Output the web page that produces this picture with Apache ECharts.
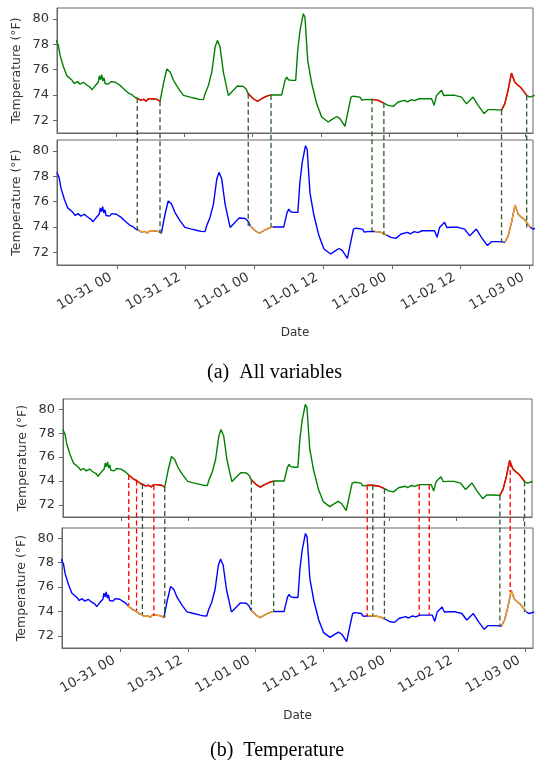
<!DOCTYPE html>
<html>
<head>
<meta charset="utf-8">
<script src="https://cdn.jsdelivr.net/npm/echarts@6/dist/echarts.min.js"></script>
<style>
html, body { margin: 0; padding: 0; background: #fff; }
#main { width: 535px; height: 760px; }
</style>
</head>
<body>
<div id="main"></div>
<script>
// hours after 10-31 00:00
const tHours = [-10.5, -10.1, -9.8, -9.2, -8.6, -7.7, -7.3, -6.8, -6.3, -5.7, -5.2, -4.5, -4.2, -3.6, -3.1, -2.9, -2.7, -2.5, -2.3, -2.1,
  -1.9, -1.6, -1.3, -0.9, -0.1, 0.75, 1.3, 1.63, 2.2, 2.7, 3.39, 3.75, 4.26, 4.6, 4.9, 5.3, 5.72, 5.8, 6.3, 7.2,
  7.75, 8.07, 8.35, 8.95, 9.53, 10.11, 11.0, 11.86, 13.04, 14.22, 14.5, 14.7, 15.37, 15.67, 16.25, 16.85, 17.43, 17.83, 18.3, 18.88,
  19.76, 20.64, 21.34, 22.39, 22.9, 23.25, 24.15, 24.85, 25.62, 26.5, 27.25, 29.13, 29.71, 30.01, 30.3, 30.89, 31.59, 31.94, 32.35, 32.92,
  33.22, 33.7, 34.4, 35.28, 36.15, 37.31, 37.91, 38.79, 39.37, 40.24, 40.54, 40.82, 41.3, 41.7, 42.88, 43.2, 43.75, 44.0, 45.0, 46.09,
  47.08, 47.84, 48.72, 49.6, 50.77, 51.2, 51.95, 52.5, 53.3, 54.28, 55.1, 55.46, 55.91, 56.34, 57.21, 57.6, 58.37, 59.55, 60.72, 61.6,
  62.76, 63.64, 64.69, 65.39, 66.57, 67.75, 68.32, 68.9, 69.5, 69.6, 70.08, 70.66, 71.1, 71.53, 72.17, 72.71, 73.6];
const temps = [78.3, 77.9, 77.1, 76.2, 75.5, 75.15, 74.9, 75.05, 74.85, 75.0, 74.8, 74.6, 74.4, 74.75, 75.0, 75.5, 75.2, 75.6, 75.1, 75.35,
  74.9, 75.0, 74.85, 75.05, 75.0, 74.75, 74.5, 74.35, 74.15, 74.05, 73.8, 73.75, 73.6, 73.45, 73.65, 73.5, 73.7, 73.65, 73.7, 73.65,
  73.5, 73.45, 74.9, 76.05, 75.8, 75.15, 74.5, 73.97, 73.83, 73.7, 73.85, 73.65, 73.63, 74.1, 74.75, 75.8, 77.77, 78.3, 77.77, 75.8,
  73.96, 74.36, 74.7, 74.67, 74.45, 74.1, 73.7, 73.5, 73.7, 73.9, 74.0, 74.0, 75.15, 75.4, 75.2, 75.15, 75.15, 77.5, 79.08, 80.4,
  80.1, 76.7, 74.9, 73.3, 72.26, 71.87, 72.05, 72.3, 72.13, 71.53, 71.47, 72.8, 73.83, 73.9, 73.83, 73.6, 73.63, 73.65, 73.65, 73.57,
  73.36, 73.18, 73.1, 73.44, 73.57, 73.45, 73.63, 73.55, 73.7, 73.7, 73.7, 73.7, 73.18, 73.96, 74.36, 73.95, 73.97, 73.97, 73.83, 73.3,
  73.83, 73.18, 72.53, 72.84, 72.84, 72.8, 73.3, 74.36, 75.72, 75.6, 75.0, 74.75, 74.6, 74.36, 73.96, 73.83, 73.96];

// anomaly windows (hours)
const segA = [[3.75, 7.75], [23.25, 27.25], [45.0, 47.08], [67.75, 72.17]];
const segB = [[1.3, 7.75], [23.25, 27.25], [44.0, 47.08], [67.75, 72.17]];
const redLinesB = [1.3, 2.7, 5.8, 44.0, 53.3, 55.1, 69.6];
const tickHours = [0, 12, 24, 36, 48, 60, 72];
const tickLabels = ['10-31 00', '10-31 12', '11-01 00', '11-01 12', '11-02 00', '11-02 12', '11-03 00'];
const tempTicks = [72, 74, 76, 78, 80];

const gray = '#666', txt = '#333';
const grids = [
  { left: 57, top: 8, width: 476, height: 125, xr: [-10.35, 73.28] },
  { left: 57, top: 140, width: 476, height: 125, xr: [-10.47, 72.65] },
  { left: 63, top: 399, width: 469, height: 118, xr: [-10.47, 73.5] },
  { left: 62, top: 528, width: 471, height: 120, xr: [-10.36, 73.37] }
];

const inSeg = (segs, h) => segs.some(s => h >= s[0] - 1e-6 && h <= s[1] + 1e-6);
const full = tHours.map((h, i) => [h, temps[i]]);
const part = segs => tHours.map((h, i) => [h, inSeg(segs, h) ? temps[i] : '-']);
const capStyle = { fontFamily: 'Liberation Serif', fontSize: 20, fontWeight: 'normal', color: '#000' };

let chart = echarts.init(document.getElementById('main'));
let option = {
  animation: false,
  title: [
    { text: '(a)  All variables', left: 202, top: 358, textStyle: capStyle },
    { text: '(b)  Temperature', left: 205, top: 736, textStyle: capStyle }
  ],
  grid: grids.map(g => ({ left: g.left, top: g.top, width: g.width, height: g.height, show: true, borderColor: gray, borderWidth: 1 })),
  xAxis: grids.map((g, i) => ({
    type: 'value', gridIndex: i, min: g.xr[0], max: g.xr[1],
    splitLine: { show: false },
    axisLine: { show: true, onZero: false, lineStyle: { color: gray } },
    axisTick: { show: true, length: 4, lineStyle: { color: gray }, customValues: tickHours },
    axisLabel: {
      show: i % 2 === 1, customValues: tickHours, rotate: 30, margin: 16,
      align: 'right', verticalAlign: 'bottom', padding: [0, 3, 0, 0],
      fontFamily: 'DejaVu Sans', fontSize: 13.5, color: txt,
      formatter: v => tickLabels[tickHours.indexOf(v)]
    },
    name: i % 2 === 1 ? 'Date' : '', nameLocation: 'middle', nameGap: 62, nameMoveOverlap: false,
    nameTextStyle: { fontFamily: 'DejaVu Sans', fontSize: 12, color: txt }
  })),
  yAxis: grids.map((g, i) => ({
    type: 'value', gridIndex: i, min: 71, max: 80.85,
    splitLine: { show: false },
    axisLine: { show: true, onZero: false, lineStyle: { color: gray } },
    axisTick: { show: true, length: 4, lineStyle: { color: gray }, customValues: tempTicks },
    axisLabel: { customValues: tempTicks, margin: 8, fontFamily: 'DejaVu Sans', fontSize: 13, color: txt },
    name: 'Temperature (°F)', nameLocation: 'middle', nameGap: 34, nameMoveOverlap: false,
    nameTextStyle: { fontFamily: 'DejaVu Sans', fontSize: 12.5, color: txt }
  })),
  series: []
};

grids.forEach((g, i) => {
  const top = i % 2 === 0;
  const segs = i < 2 ? segA : segB;
  option.series.push({
    type: 'line', xAxisIndex: i, yAxisIndex: i, data: full, showSymbol: false,
    lineStyle: { width: 1.4, color: top ? '#008000' : '#0000ff' }, z: 2
  });
  option.series.push({
    type: 'line', xAxisIndex: i, yAxisIndex: i, data: part(segs), showSymbol: false, connectNulls: false,
    lineStyle: { width: 1.4, color: top ? '#ff0000' : '#ffa500' }, z: 3
  });
});

chart.setOption(option);

// dashed connectors between the paired panels
function valAt(h) {
  let best = 0;
  tHours.forEach((t, i) => { if (Math.abs(t - h) < Math.abs(tHours[best] - h)) best = i; });
  return temps[best];
}
let lines = [];
function connector(gTop, gBot, h, color) {
  const v = valAt(h);
  const p1 = chart.convertToPixel({ xAxisIndex: gTop, yAxisIndex: gTop }, [h, v]);
  const p2 = chart.convertToPixel({ xAxisIndex: gBot, yAxisIndex: gBot }, [h, v]);
  lines.push({
    type: 'line', silent: true, z: 10,
    shape: { x1: p1[0], y1: p1[1], x2: p1[0], y2: p2[1] },
    style: { stroke: color, lineWidth: 1.3, lineDash: [5, 3] }
  });
}
const darkGreen = '#2e5a2a';
segA.flat().forEach(h => connector(0, 1, h, darkGreen));
segA.flat().forEach(h => connector(2, 3, h, darkGreen));
redLinesB.forEach(h => connector(2, 3, h, '#ff0000'));
chart.setOption({ graphic: lines });
</script>
</body>
</html>
